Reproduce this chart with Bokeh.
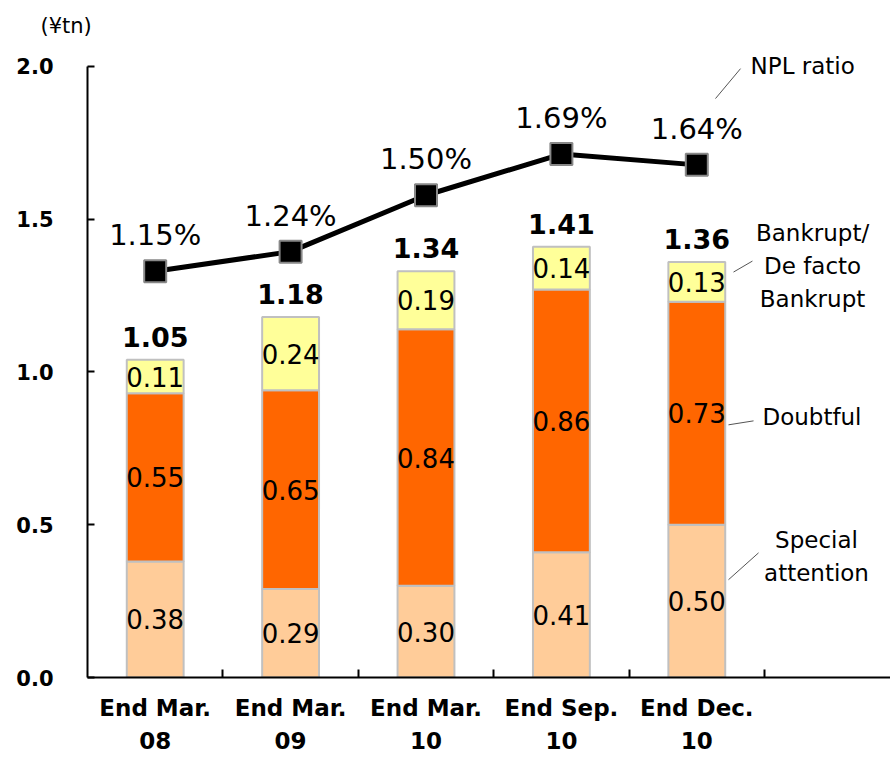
import numpy as np
from bokeh.plotting import figure
from bokeh.models import Range1d, FixedTicker, NumeralTickFormatter
from bokeh.core.properties import value
from bokeh.embed import file_html
from bokeh.resources import INLINE

# ---- data ----
categories = ["End Mar.\n08", "End Mar.\n09", "End Mar.\n10", "End Sep.\n10", "End Dec.\n10"]
special_attention = [0.38, 0.29, 0.30, 0.41, 0.50]
doubtful = [0.55, 0.65, 0.84, 0.86, 0.73]
bankrupt = [0.11, 0.24, 0.19, 0.14, 0.13]
totals = [1.05, 1.18, 1.34, 1.41, 1.36]
npl_ratio = [1.15, 1.24, 1.50, 1.69, 1.64]
y_ticks = [0.0, 0.5, 1.0, 1.5, 2.0]
series_names = ["Special\nattention", "Doubtful", "Bankrupt/\nDe facto\nBankrupt", "NPL ratio"]
unit_label = "(¥tn)"

# ---- styling ----
FONT = value("DejaVu Sans")
C_SA, C_D, C_B = "#FFCC99", "#FF6600", "#FFFF99"
BAR_W = 0.42
TOP, BOT, LEFT = 42, 79, 87
H, W = 757, 890
PXU = 306.0  # pixels per y unit

n = len(categories)
xs = np.arange(n) + 0.5
sa = np.array(special_attention)
d = np.array(doubtful)
b = np.array(bankrupt)
top1 = sa
top2 = sa + d
top3 = sa + d + b

Y_END = (H - TOP - BOT) / PXU
SLOPE, ICPT = 0.71, 0.5135
npl_range = Range1d(start=(0 - ICPT) / SLOPE, end=(Y_END - ICPT) / SLOPE)
npl_left = ICPT + SLOPE * np.array(npl_ratio)

p = figure(width=W, height=H, output_backend="svg", toolbar_location=None,
           x_range=Range1d(0, (W - LEFT) / 135.4), y_range=Range1d(0, Y_END),
           min_border_left=LEFT, min_border_right=0, min_border_top=TOP, min_border_bottom=BOT)
p.extra_y_ranges = {"npl": npl_range}
p.outline_line_color = None
p.xgrid.grid_line_color = None
p.ygrid.grid_line_color = None
p.background_fill_color = "white"
p.border_fill_color = "white"

p.title.text = unit_label
p.title.align = "left"
p.title.offset = -47
p.title.text_font = "DejaVu Sans"
p.title.text_font_size = "21px"
p.title.text_font_style = "normal"
p.title.text_color = "black"

# bars
p.vbar(x=xs, width=BAR_W, bottom=0, top=top1, fill_color=C_SA, line_color="#C0C0C0", line_width=2)
p.vbar(x=xs, width=BAR_W, bottom=top1, top=top2, fill_color=C_D, line_color="#C0C0C0", line_width=2)
p.vbar(x=xs, width=BAR_W, bottom=top2, top=top3, fill_color=C_B, line_color="#C0C0C0", line_width=2)

# segment labels
seg_kw = dict(text_font=FONT, text_font_size="26px", text_align="center",
              text_baseline="middle", text_color="black")
p.text(x=xs, y=top1 / 2, text=[f"{v:.2f}" for v in special_attention], **seg_kw)
p.text(x=xs, y=(top1 + top2) / 2, text=[f"{v:.2f}" for v in doubtful], **seg_kw)
p.text(x=xs, y=(top2 + top3) / 2, text=[f"{v:.2f}" for v in bankrupt], **seg_kw)

# totals
p.text(x=xs, y=top3 + 23 / PXU, text=[f"{v:.2f}" for v in totals], text_font=FONT,
       text_font_size="27px", text_font_style="bold", text_align="center",
       text_baseline="middle")

# NPL line
p.line(x=xs, y=npl_ratio, y_range_name="npl", line_color="black", line_width=5)
p.scatter(x=xs, y=npl_ratio, y_range_name="npl", marker="square", size=22,
          fill_color="black", line_color="#888888", line_width=2)
p.text(x=xs, y=npl_left + 36 / PXU, text=[f"{v:.2f}%" for v in npl_ratio],
       text_font=FONT, text_font_size="29px", text_align="center",
       text_baseline="middle")

# series annotations at right
xr = xs[-1] + BAR_W / 2
anchors = [top1[-1] / 2, (top1[-1] + top2[-1]) / 2, (top2[-1] + top3[-1]) / 2, npl_left[-1]]
# (dx0, dy0, dx1, dy1, tx, ty, align)
geo = [(0.024, 0.070, 0.246, 0.158, 0.674, 0.145, "center"),
       (0.024, -0.038, 0.209, -0.025, 0.275, -0.012, "left"),
       (0.061, 0.032, 0.201, 0.068, 0.645, 0.051, "center"),
       (-0.072, 0.217, 0.113, 0.315, 0.187, 0.322, "left")]
for name, a, g in zip(series_names, anchors, geo):
    dx0, dy0, dx1, dy1, tx, ty, al = g
    p.segment(x0=[xr + dx0], y0=[a + dy0], x1=[xr + dx1], y1=[a + dy1],
              line_color="#555555", line_width=1)
    p.text(x=[xr + tx], y=[a + ty], text=[name], text_font=FONT, text_font_size="23px",
           text_align=al, text_baseline="middle", text_line_height=1.27, text_color="black")

# axes
ya = p.yaxis[0]
ya.ticker = FixedTicker(ticks=y_ticks)
ya.formatter = NumeralTickFormatter(format="0.0")
ya.bounds = (0, 2.0)
ya.axis_line_width = 2
ya.axis_line_color = "black"
ya.major_tick_in = 7
ya.major_tick_out = 0
ya.major_tick_line_width = 2
ya.minor_tick_line_color = None
ya.major_label_standoff = 34
ya.major_label_text_font = "DejaVu Sans"
ya.major_label_text_font_style = "bold"
ya.major_label_text_font_size = "21px"
ya.major_label_text_color = "black"

xa = p.xaxis[0]
xa.ticker = FixedTicker(ticks=list(xs), minor_ticks=[1, 2, 3, 4, 5])
xa.major_label_overrides = {float(x): c for x, c in zip(xs, categories)}
xa.axis_line_width = 2
xa.axis_line_color = "black"
xa.major_tick_line_color = None
xa.major_tick_in = 0
xa.major_tick_out = 0
xa.minor_tick_in = 8
xa.minor_tick_out = 0
xa.minor_tick_line_width = 2
xa.minor_tick_line_color = "black"
xa.major_label_standoff = 17
xa.major_label_text_font = "DejaVu Sans"
xa.major_label_text_font_style = "bold"
xa.major_label_text_font_size = "23px"
xa.major_label_text_color = "black"
xa.major_label_text_line_height = 1.3

open("out.html", "w").write(file_html(p, INLINE))
